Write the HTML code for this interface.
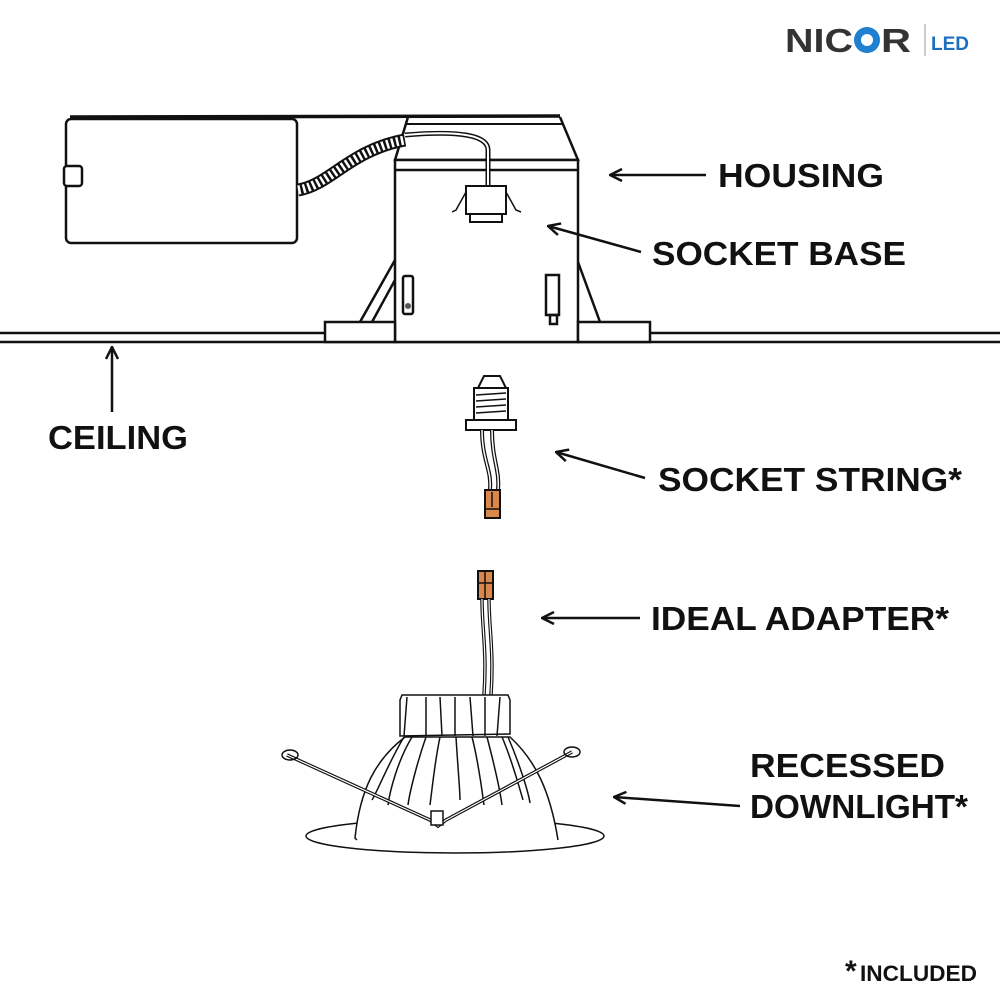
<!DOCTYPE html>
<html><head><style>
html,body{margin:0;padding:0;background:#fff;}
svg{display:block}
text{font-family:"Liberation Sans",sans-serif;font-weight:bold;fill:#111}
</style></head><body>
<svg width="1000" height="1000" viewBox="0 0 1000 1000" xmlns="http://www.w3.org/2000/svg">
<defs><marker id="ah" markerWidth="14" markerHeight="14" refX="13" refY="7" orient="auto" markerUnits="userSpaceOnUse">
<path d="M1,1 L13,7 L1,13" fill="none" stroke="#111" stroke-width="2.5"/></marker></defs>
<!-- logo -->
<text x="785" y="52" font-size="33" textLength="68" lengthAdjust="spacingAndGlyphs" style="fill:#333">NIC</text>
<circle cx="867" cy="40" r="13" fill="#1f7fd0"/>
<circle cx="867" cy="40" r="6" fill="#fff"/>
<text x="881" y="52" font-size="33" textLength="30" lengthAdjust="spacingAndGlyphs" style="fill:#333">R</text>
<line x1="925" y1="24" x2="925" y2="56" stroke="#999" stroke-width="1"/>
<text x="931" y="50" font-size="19" style="fill:#1f6fc0">LED</text>
<g fill="none" stroke="#111" stroke-width="2.5">
<line x1="0" y1="333" x2="325" y2="333"/><line x1="650" y1="333" x2="1000" y2="333"/>
<line x1="0" y1="342" x2="1000" y2="342"/>
<path d="M70,117 L560,116" stroke-width="3.5"/>
<rect x="66" y="119" width="231" height="124" rx="5" fill="#fff"/>
<rect x="64" y="166" width="18" height="20" rx="3" fill="#fff"/>
<path d="M408,117 L395,160 L578,160 L560,117"/>
<line x1="406" y1="124" x2="562" y2="124" stroke-width="2"/>
<rect x="395" y="160" width="183" height="182" fill="#fff"/>
<line x1="395" y1="170" x2="578" y2="170"/>
<rect x="325" y="322" width="70" height="20" fill="#fff"/>
<rect x="578" y="322" width="72" height="20" fill="#fff"/>
<path d="M360,322 L395,260 M372,322 L395,280"/>
<path d="M578,262 L600,322"/>
<rect x="403" y="276" width="10" height="38" rx="2" fill="#fff"/>
<circle cx="408" cy="306" r="3" fill="#555" stroke="none"/>
<rect x="546" y="275" width="13" height="40" fill="#fff"/>
<rect x="550" y="315" width="7" height="9"/>
<path d="M405,135 Q488,128 488,150 L488,186" stroke-width="5"/>
<path d="M405,135 Q488,128 488,150 L488,186" stroke="#fff" stroke-width="2"/>
<rect x="466" y="186" width="40" height="28" fill="#fff" stroke-width="2"/>
<rect x="470" y="214" width="32" height="8" fill="#fff" stroke-width="2"/>
<path d="M466,192 L456,210 L452,212 M506,192 L516,210 L521,212" stroke-width="1.5"/>
</g>
<path d="M298,190 C330,185 350,150 405,140" fill="none" stroke="#111" stroke-width="13"/>
<path d="M298,190 C330,185 350,150 405,140" fill="none" stroke="#fff" stroke-width="9" stroke-dasharray="2.5 2.5"/>
<g fill="#fff" stroke="#111" stroke-width="2">
<path d="M478,388 L484,376 L500,376 L506,388 Z"/>
<rect x="474" y="388" width="34" height="32"/>
<path d="M476,395 L506,393 M476,401 L506,399 M476,407 L506,405 M476,413 L506,411" stroke-width="1.5"/>
<rect x="466" y="420" width="50" height="10"/>
<path d="M482,430 C482,460 492,470 490,490 M492,430 C492,460 500,470 498,490" fill="none" stroke-width="4"/>
<path d="M482,430 C482,460 492,470 490,490 M492,430 C492,460 500,470 498,490" fill="none" stroke="#fff" stroke-width="1.5"/>
<rect x="485" y="490" width="15" height="28" fill="#d9874a"/>
<line x1="485" y1="509" x2="500" y2="509" stroke-width="1.5"/>
<line x1="492" y1="492" x2="492" y2="507" stroke-width="1.5"/>
<rect x="478" y="571" width="15" height="28" fill="#d9874a"/>
<line x1="478" y1="583" x2="493" y2="583" stroke-width="1.5"/>
<line x1="485" y1="571" x2="485" y2="599" stroke-width="1.5"/>
<path d="M482,599 C482,630 487,650 484,695 M489,599 C489,630 494,650 491,695" fill="none" stroke-width="3.5"/>
<path d="M482,599 C482,630 487,650 484,695 M489,599 C489,630 494,650 491,695" fill="none" stroke="#fff" stroke-width="1.2"/>
</g>
<g fill="none" stroke="#111" stroke-width="1.5">
<ellipse cx="455" cy="836" rx="149" ry="17" fill="#fff"/>
<path d="M357,840 L355,838 C360,790 375,760 405,737 L510,737 C535,760 550,790 558,840" fill="#fff"/>
<path d="M400,700 L402,695 L508,695 L510,700 L510,734 L400,736 Z" fill="#fff"/>
<path d="M407,697 L404,736 M426,697 L426,736 M440,697 L442,736 M455,697 L455,736 M470,697 L473,736 M485,697 L485,736 M500,697 L497,736"/>
<path d="M404,737 C390,760 378,790 372,800 M412,737 C398,760 390,790 388,805 M426,737 C418,760 410,790 408,805 M440,737 C435,760 432,790 430,805 M456,737 C458,770 460,790 460,800 M472,737 C478,760 482,790 484,805 M487,737 C493,760 500,790 502,805 M502,737 C512,760 520,790 523,800 M508,737 C518,760 528,790 530,803"/>
<path d="M287,755 L430,820 L438,826 L446,820 L572,752" stroke-width="3.5"/>
<path d="M287,755 L430,820 L438,826 L446,820 L572,752" stroke="#fff" stroke-width="1.2"/>
<ellipse cx="290" cy="755" rx="8" ry="5"/>
<ellipse cx="572" cy="752" rx="8" ry="5"/>
<rect x="431" y="811" width="12" height="14" fill="#fff"/>
</g>
<g stroke="#111" stroke-width="2.5" marker-end="url(#ah)">
<line x1="706" y1="175" x2="610" y2="175"/>
<line x1="641" y1="252" x2="548" y2="226"/>
<line x1="112" y1="412" x2="112" y2="347"/>
<line x1="645" y1="478" x2="556" y2="452"/>
<line x1="640" y1="618" x2="542" y2="618"/>
<line x1="740" y1="806" x2="614" y2="797"/>
</g>
<g font-size="33" lengthAdjust="spacingAndGlyphs">
<text x="718" y="187" textLength="166" lengthAdjust="spacingAndGlyphs">HOUSING</text>
<text x="652" y="265" textLength="254" lengthAdjust="spacingAndGlyphs">SOCKET BASE</text>
<text x="48" y="449" textLength="140" lengthAdjust="spacingAndGlyphs">CEILING</text>
<text x="658" y="491" textLength="304" lengthAdjust="spacingAndGlyphs">SOCKET STRING*</text>
<text x="651" y="630" textLength="298" lengthAdjust="spacingAndGlyphs">IDEAL ADAPTER*</text>
<text x="750" y="777" textLength="195" lengthAdjust="spacingAndGlyphs">RECESSED</text>
<text x="750" y="818" textLength="218" lengthAdjust="spacingAndGlyphs">DOWNLIGHT*</text>
</g>
<text x="845" y="981" font-size="30">*</text>
<text x="860" y="981" font-size="22" textLength="117" lengthAdjust="spacingAndGlyphs">INCLUDED</text>
</svg>
</body></html>
